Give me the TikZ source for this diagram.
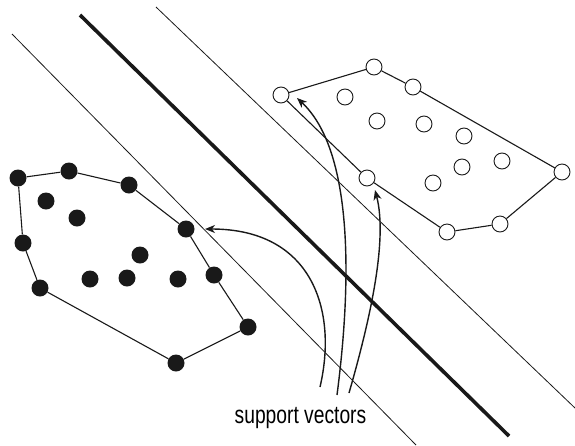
\documentclass[tikz,border=0pt]{standalone}
\usepackage{fontspec}
\newfontfamily\labelfont[FakeStretch=0.77]{Liberation Sans}
\usetikzlibrary{arrows.meta}
\tikzset{
  bdot/.style={circle,fill=black!90,draw=none,minimum size=17pt,inner sep=0pt},
  wdot/.style={circle,fill=white,draw=black!90,line width=0.9pt,minimum size=16pt,inner sep=0pt},
  hull/.style={line width=1.1pt,black!90},
  margin/.style={line width=0.8pt,black!90},
  sep/.style={line width=3.6pt,black!90},
  svarrow/.style={line width=1.4pt,black!90,-{Stealth[length=10pt,width=8pt,inset=3pt]}}
}
\begin{document}
\begin{tikzpicture}[x=1pt,y=-1pt]
\useasboundingbox (0,0) rectangle (575,445);
% separating lines
\coordinate (l1a) at (12,34);  \coordinate (l1b) at (416,445);
\coordinate (l2a) at (80,15);  \coordinate (l2b) at (509,436);
\coordinate (l3a) at (156,7);  \coordinate (l3b) at (575,408);
\draw[margin] (l1a) -- (l1b);
\draw[sep] (l2a) -- (l2b);
\draw[margin] (l3a) -- (l3b);
% black class
\node[bdot] (b1) at (18,178) {};
\node[bdot] (b2) at (69,171) {};
\node[bdot] (b3) at (129,185) {};
\node[bdot] (b4) at (186,229) {};
\node[bdot] (b5) at (214,275) {};
\node[bdot] (b6) at (248,327) {};
\node[bdot] (b7) at (176,363) {};
\node[bdot] (b8) at (40,288) {};
\node[bdot] (b9) at (23,243) {};
\node[bdot] (bi1) at (46,201) {};
\node[bdot] (bi2) at (77,218) {};
\node[bdot] (bi3) at (140,255) {};
\node[bdot] (bi4) at (90,279) {};
\node[bdot] (bi5) at (127,278) {};
\node[bdot] (bi6) at (178,279) {};
\draw[hull] (b1) -- (b2) -- (b3) -- (b4) -- (b5) -- (b6) -- (b7) -- (b8) -- (b9) -- (b1);
% white class
\node[wdot] (w1) at (281,95) {};
\node[wdot] (w2) at (374,67) {};
\node[wdot] (w3) at (413,87) {};
\node[wdot] (w4) at (562,172) {};
\node[wdot] (w5) at (500,224) {};
\node[wdot] (w6) at (447,232) {};
\node[wdot] (w7) at (367,178) {};
\node[wdot] (wi1) at (345,97) {};
\node[wdot] (wi2) at (377,121) {};
\node[wdot] (wi3) at (424,124) {};
\node[wdot] (wi4) at (464,136) {};
\node[wdot] (wi5) at (502,161) {};
\node[wdot] (wi6) at (462,167) {};
\node[wdot] (wi7) at (433,183) {};
\draw[hull] (w1) -- (w2) -- (w3) -- (w4) -- (w5) -- (w6) -- (w7) -- (w1);
% label
\node[anchor=base,inner sep=0pt,font=\labelfont\fontsize{25}{30}\selectfont] (lbl) at (300.5,423) {support vectors};
% arrows
\coordinate (s1) at (320,387);
\coordinate (s2) at (337,395);
\coordinate (s3) at (349,393);
\coordinate (t1) at (205,229);
\coordinate (t2) at (297,98);
\coordinate (t3) at (375,190);
\draw[svarrow] (s1) .. controls (338,310) and (312,229) .. (t1);
\draw[svarrow] (s2) .. controls (352,280) and (353,150) .. (t2);
\draw[svarrow] (s3) .. controls (370,320) and (388,240) .. (t3);
\end{tikzpicture}
\end{document}
